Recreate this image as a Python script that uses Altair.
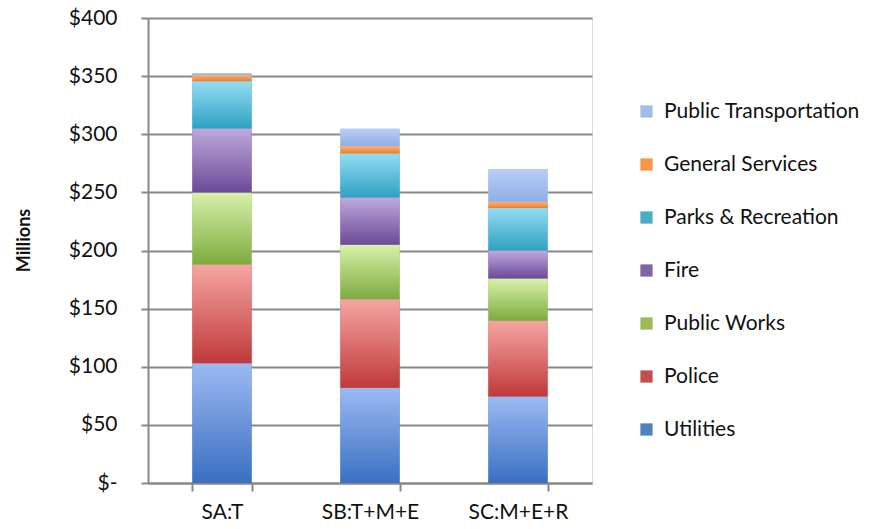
import altair as alt
import pandas as pd

# Budget (millions of dollars) by department for each scenario
scenarios = ["SA:T", "SB:T+M+E", "SC:M+E+R"]
departments = ["Utilities", "Police", "Public Works", "Fire",
               "Parks & Recreation", "General Services", "Public Transportation"]

utilities = [103, 82, 74.5]
police = [85, 76, 65]
public_works = [62, 47, 36.5]
fire = [55, 40.5, 24]
parks = [40.5, 38, 36.5]
general_services = [5.7, 6.3, 5.5]
public_transportation = [1.5, 15, 28]

series = [utilities, police, public_works, fire, parks,
          general_services, public_transportation]

# Solid legend colours and vertical gradient (top, bottom) per department
solid = ["#4f81bd", "#c0504d", "#9bbb59", "#8064a2", "#4bacc6", "#f79646", "#a2bcea"]
grad = [("#9cbaf2", "#3a6fc2"), ("#f5a6a3", "#c0393a"), ("#d9f1aa", "#7dab3e"),
        ("#bea9dd", "#6c4a97"), ("#95dcf3", "#2ea1c2"), ("#fbb27c", "#e8802c"),
        ("#b8cef4", "#90ade6")]

rows = []
for k, (dept, vals) in enumerate(zip(departments, series)):
    for s, v in zip(scenarios, vals):
        rows.append({"scenario": s, "dept": dept, "value": v, "idx": k})
df = pd.DataFrame(rows)

FONT = "Lato"
GRID = "#878787"

x_enc = alt.X(
    "scenario:N", sort=scenarios, title=None,
    scale=alt.Scale(paddingInner=0.6, paddingOuter=0.3),
    axis=alt.Axis(labelAngle=0, tickBand="extent", tickSize=8, tickColor=GRID,
                  tickWidth=2, domainColor=GRID, domainWidth=2, labelFont=FONT,
                  labelFontSize=21, labelColor="#111111", labelPadding=10, grid=False),
)

y_axis = alt.Axis(
    values=list(range(0, 401, 50)),
    labelExpr="datum.value == 0 ? '$-' : '$' + datum.value",
    grid=True, gridColor=GRID, gridWidth=2, tickSize=7, tickColor=GRID, tickWidth=2,
    domainColor=GRID, domainWidth=2, labelFont=FONT, labelFontSize=21,
    labelColor="#111111", labelPadding=24,
    title="Millions", titleFont=FONT, titleFontSize=18, titleFontWeight="bold",
    titleColor="#111111", titleAngle=-90, titleX=-124, titleY=222,
    titleAlign="center", titleBaseline="middle",
)

base = alt.Chart(df).transform_stack(
    stack="value", as_=["y0", "y1"], groupby=["scenario"],
    sort=[alt.SortField("idx", order="ascending")],
)

solid_layer = base.mark_bar().encode(
    x=x_enc,
    y=alt.Y("y0:Q", scale=alt.Scale(domain=[0, 400], nice=False), axis=y_axis),
    y2="y1:Q",
    color=alt.Color(
        "dept:N",
        scale=alt.Scale(domain=departments[::-1], range=solid[::-1]),
        legend=alt.Legend(
            title=None, orient="none", legendX=488, legendY=83,
            symbolType="square", symbolSize=150, symbolStrokeWidth=0,
            labelFont=FONT, labelFontSize=21, labelColor="#111111",
            labelOffset=7, labelLimit=0, rowPadding=31, padding=0,
        ),
    ),
)

layers = [solid_layer]
for dept, (top, bottom) in zip(departments, grad):
    fill = alt.LinearGradient(
        gradient="linear", x1=0, x2=0, y1=0, y2=1,
        stops=[alt.GradientStop(color=top, offset=0),
               alt.GradientStop(color=bottom, offset=1)],
    )
    layers.append(
        base.transform_filter(alt.datum.dept == dept)
        .mark_bar(color=fill)
        .encode(x=x_enc, y="y0:Q", y2="y1:Q")
    )

chart = alt.layer(*layers).properties(
    width=444, height=465,
    autosize=alt.AutoSizeParams(type="none"),
    padding={"left": 148, "top": 18, "right": 297, "bottom": 46},
).configure_view(stroke=None).configure(background="white")

chart.save("out.html", embed_options={"renderer": "svg", "actions": False})
